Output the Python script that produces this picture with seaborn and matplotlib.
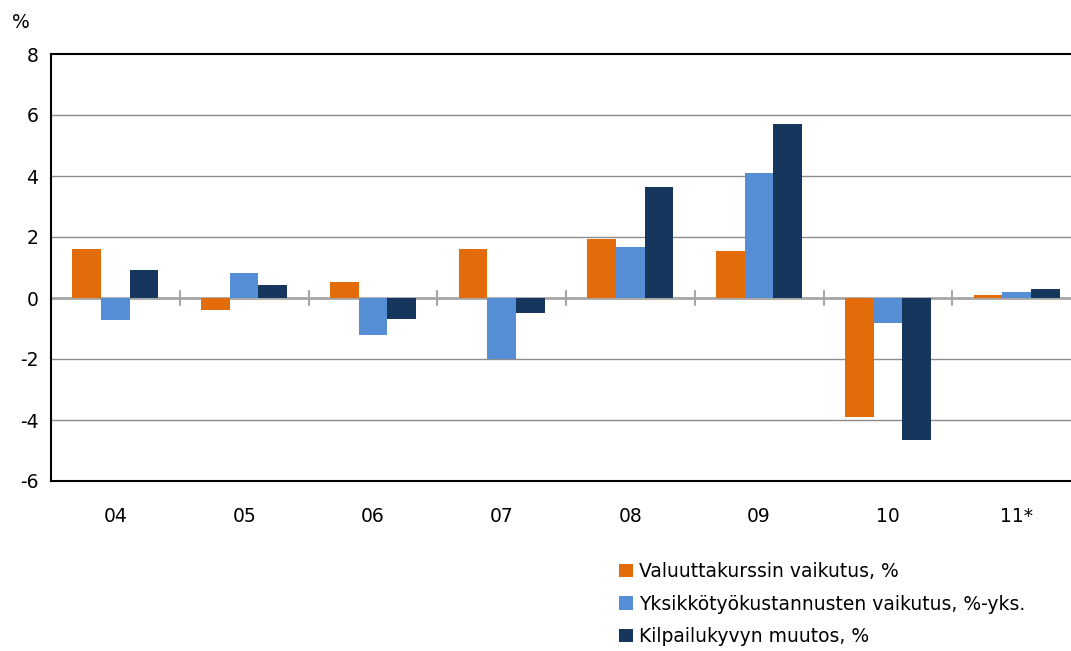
import matplotlib
matplotlib.use("Agg")
import matplotlib.pyplot as plt
import seaborn as sns
import pandas as pd
import numpy as np
from matplotlib.patches import Patch

categories = ["04", "05", "06", "07", "08", "09", "10", "11*"]
series_names = ["Valuuttakurssin vaikutus, %",
                "Yksikkötyökustannusten vaikutus, %-yks.",
                "Kilpailukyvyn muutos, %"]
valuutta = [1.6, -0.39, 0.52, 1.6, 1.93, 1.54, -3.9, 0.1]
yksikko = [-0.72, 0.82, -1.21, -2.0, 1.67, 4.1, -0.82, 0.2]
kilpailu = [0.92, 0.43, -0.69, -0.49, 3.64, 5.7, -4.66, 0.3]
colors = ["#E36C0A", "#558ED5", "#17365D"]
yticks = [-6, -4, -2, 0, 2, 4, 6, 8]

rows = []
for name, vals in zip(series_names, [valuutta, yksikko, kilpailu]):
    for c, v in zip(categories, vals):
        rows.append({"cat": c, "series": name, "value": v})
df = pd.DataFrame(rows)

sns.set_style("white")
plt.rcParams['font.family'] = ['DejaVu Sans']
plt.rcParams['text.color'] = 'black'
plt.rcParams['xtick.color'] = 'black'
plt.rcParams['ytick.color'] = 'black'

fig = plt.figure(figsize=(10.71, 6.51), dpi=100)
ax = fig.add_axes([51/1071, (651-481)/651, 1030/1071, (481-54)/651])

sns.barplot(data=df, x="cat", y="value", hue="series", order=categories,
            hue_order=series_names, palette=colors, width=0.667, gap=0,
            saturation=1, ax=ax, legend=False, linewidth=0, errorbar=None)

ax.set_ylim(-6, 8)
ax.set_xlim(-0.5, len(categories) - 0.5)
ax.set_yticks(yticks)
ax.set_yticklabels([str(t) for t in yticks], fontsize=13.5)
ax.set_xlabel("")
ax.set_ylabel("")
ax.tick_params(axis="y", length=0, pad=9)
ax.tick_params(axis="x", length=0, pad=19, labelsize=13.5)

for t in yticks:
    if t in (-6, 8):
        continue
    if t == 0:
        ax.axhline(0, color="#A6A6A6", lw=2, zorder=0.5)
    else:
        ax.axhline(t, color="#8C8C8C", lw=1, zorder=0.5)

# category separator tick marks on zero line
for i in range(1, len(categories)):
    ax.plot([i - 0.5, i - 0.5], [-0.22, 0.22], color="#A6A6A6", lw=1.5, zorder=0.6)

for s in ["top", "left", "bottom"]:
    ax.spines[s].set_color("black")
    ax.spines[s].set_linewidth(1.5)
ax.spines["right"].set_visible(False)

fig.text(12/1071, 1 - 22/651, "%", fontsize=13.5, va="center", ha="left")

handles = [Patch(facecolor=c, edgecolor="none") for c in colors]
fig.legend(handles, series_names, loc="upper left",
           bbox_to_anchor=(619/1071, 1 - 562/651), frameon=False,
           fontsize=13.5, handlelength=0.75, handleheight=0.75,
           handletextpad=0.3, labelspacing=0.72, borderaxespad=0, borderpad=0)

fig.savefig("out.png", dpi=100)
